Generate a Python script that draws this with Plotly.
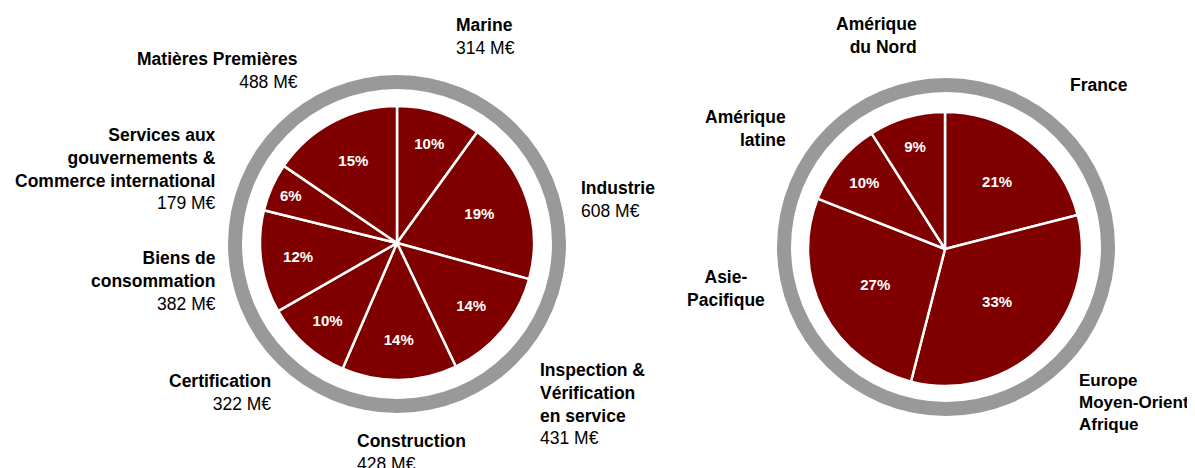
import plotly.graph_objects as go

# ---- data ----
activity_labels = ["Marine", "Industrie", "Inspection &<br>Vérification<br>en service", "Construction",
                   "Certification", "Biens de<br>consommation",
                   "Services aux<br>gouvernements &<br>Commerce international", "Matières Premières"]
activity_values = [314, 608, 431, 428, 322, 382, 179, 488]  # M€

region_labels = ["France", "Europe<br>Moyen-Orient<br>Afrique", "Asie-<br>Pacifique", "Amérique<br>latine", "Amérique<br>du Nord"]
region_pct = [21, 33, 27, 10, 9]

# ---- style ----
RED = "#800000"
GREY = "#999999"
FONT = "Liberation Sans, Arial, sans-serif"
OFF = 8  # page body margin
W, H = 1195 - OFF, 468 - OFF


def px(x, y):
    return (x - OFF) / W, (H - (y - OFF)) / H


def dom(cx, cy, r):
    x0, y0 = cx - OFF, cy - OFF
    return dict(x=[(x0 - r) / W, (x0 + r) / W], y=[(H - y0 - r) / H, (H - y0 + r) / H])


fig = go.Figure()

# grey rings
for cx, cy in [(397, 244), (946, 247)]:
    fig.add_trace(go.Pie(values=[1], labels=["ring"], hole=155 / 169, sort=False,
                         marker=dict(colors=[GREY], line=dict(width=0)),
                         textinfo="none", hoverinfo="skip", showlegend=False,
                         domain=dom(cx, cy, 169)))

fig.add_trace(go.Pie(values=activity_values, labels=activity_labels, sort=False,
                     direction="clockwise", rotation=0,
                     marker=dict(colors=[RED] * len(activity_values), line=dict(color="white", width=2.5)),
                     texttemplate="%{percent:.0%}", textposition="inside",
                     insidetextorientation="horizontal",
                     textfont=dict(family=FONT, size=15, color="white", weight="bold"),
                     hoverinfo="skip", showlegend=False,
                     domain=dom(397, 243, 137)))

fig.add_trace(go.Pie(values=region_pct, labels=region_labels, sort=False,
                     direction="clockwise", rotation=0,
                     marker=dict(colors=[RED] * len(region_pct), line=dict(color="white", width=2.5)),
                     text=[f"{v}%" for v in region_pct], texttemplate="%{text}", textposition="inside",
                     insidetextorientation="horizontal",
                     textfont=dict(family=FONT, size=15, color="white", weight="bold"),
                     hoverinfo="skip", showlegend=False,
                     domain=dom(945, 249, 137)))

# label placement (pixel positions in the window: x, y-centre, anchor, font size)
act_pos = [(454, 37, "left"), (579, 199, "left"), (538, 404, "left"), (355, 452, "left"),
           (273, 392, "right"), (218, 281, "right"), (218, 169, "right"), (300, 70, "right")]
reg_pos = [(1068, 85, "left", 17.5), (1077, 402, "left", 17), (726, 288, "center", 17.5),
           (788, 128, "right", 17.5), (919, 36, "right", 17.5)]

ann = []
for lab, val, (x, y, a) in zip(activity_labels, activity_values, act_pos):
    ax, ay = px(x, y)
    ann.append(dict(x=ax, y=ay, xref="paper", yref="paper", xanchor=a, yanchor="middle",
                    align=a, showarrow=False, text=f"<b>{lab}</b><br>{val} M€",
                    font=dict(family=FONT, size=17.5, color="black")))
for lab, (x, y, a, fs) in zip(region_labels, reg_pos):
    ax, ay = px(x, y)
    ann.append(dict(x=ax, y=ay, xref="paper", yref="paper", xanchor=a, yanchor="middle",
                    align=a, showarrow=False, text=f"<b>{lab}</b>",
                    font=dict(family=FONT, size=fs, color="black")))

fig.update_layout(width=W, height=H, margin=dict(l=0, r=0, t=0, b=0),
                  paper_bgcolor="white", plot_bgcolor="white", annotations=ann, showlegend=False)

fig.write_html("out.html")
